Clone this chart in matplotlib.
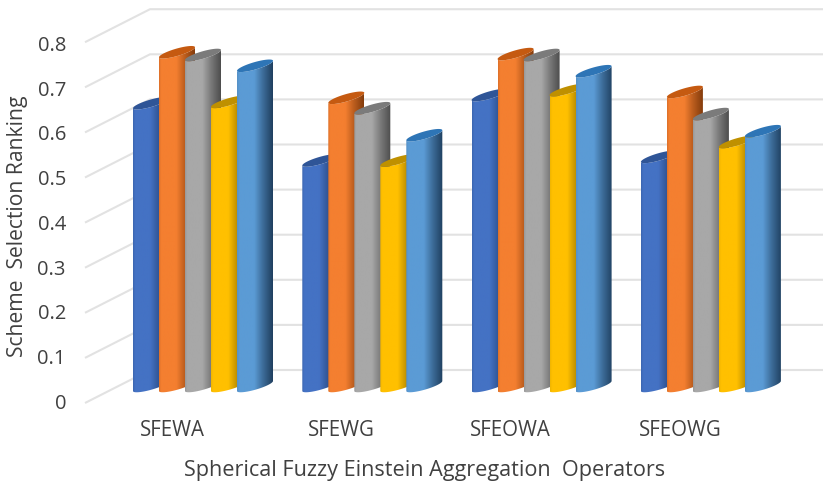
import numpy as np
import matplotlib
matplotlib.use("Agg")
import matplotlib.pyplot as plt
from matplotlib.path import Path
from matplotlib.patches import Polygon
from matplotlib.colors import to_rgb

plt.rcParams['font.family'] = ['Open Sans', 'DejaVu Sans']

categories = ["SFEWA", "SFEWG", "SFEOWA", "SFEOWG"]
series_1 = [0.627, 0.500, 0.645, 0.508]
series_2 = [0.740, 0.639, 0.736, 0.652]
series_3 = [0.734, 0.616, 0.734, 0.603]
series_4 = [0.630, 0.500, 0.656, 0.541]
series_5 = [0.710, 0.556, 0.698, 0.565]
y_ticks = [0, 0.1, 0.2, 0.3, 0.4, 0.5, 0.6, 0.7, 0.8]
y_tick_labels = ["0", "0.1", "0.2", "0.3", "0.4", "0.5", "0.6", "0.7", "0.8"]
x_title = "Spherical Fuzzy Einstein Aggregation  Operators"
y_title = "Scheme  Selection Ranking"

W, H = 823, 486
fig = plt.figure(figsize=(W / 100, H / 100), dpi=100, facecolor="white")
ax = fig.add_axes([0, 0, 1, 1])

# Scale: one category step and one value unit, in pixels
PX_X, PX_Y = 169.3, 451.0
X0, Y0 = 203.0, 386.0
ax.set_xlim(-X0 / PX_X, (W - X0) / PX_X)
ax.set_ylim((Y0 - H) / PX_Y, Y0 / PX_Y)
ax.axis("off")

# Oblique chart box: floor corners relative to the plane of the bars
BACK_DV = 16 / PX_Y
FRONT_DV = -17 / PX_Y
WALL_LEFT = (150 - X0) / PX_X
FRONT_LEFT = (85 - X0) / PX_X
RIGHT_END = (W - X0) / PX_X
GRID = "#e2e2e2"
for t in y_ticks:
    ax.plot([FRONT_LEFT, WALL_LEFT, RIGHT_END],
            [t + FRONT_DV, t + BACK_DV, t + BACK_DV],
            color=GRID, lw=1.5, solid_capstyle="butt", zorder=1)

# Cylinder geometry
STEP = 26 / PX_X
A = 18 / PX_X
B = 3.8 / PX_Y
SLOPE = (5 / PX_Y) / A


def rim(cx, v, t):
    return cx + A * np.cos(t), v + B * np.sin(t) + SLOPE * A * np.cos(t)


def cylinder(cx, value, base, edge, dark, cap, z):
    ts = np.linspace(np.pi, 2 * np.pi, 40)
    bx, by = rim(cx, 0, ts)
    tx, ty = rim(cx, value, ts[::-1])
    verts = np.column_stack([np.r_[bx, tx], np.r_[by, ty]])
    stops = [0.0, 0.06, 0.48, 0.72, 1.0]
    cols = np.array([to_rgb(edge), to_rgb(base), to_rgb(base),
                     0.5 * (np.array(to_rgb(base)) + np.array(to_rgb(dark))),
                     to_rgb(dark)])
    u = np.linspace(0, 1, 128)
    grad = np.stack([np.interp(u, stops, cols[:, i]) for i in range(3)], axis=-1)[None, :, :]
    im = ax.imshow(grad, extent=[cx - A, cx + A, -0.05, value + 0.05],
                   aspect="auto", interpolation="bilinear", zorder=z)
    im.set_clip_path(Path(np.vstack([verts, verts[0]]), closed=True), transform=ax.transData)
    # Top face of the cylinder
    tt = np.linspace(0, 2 * np.pi, 80)
    ex, ey = rim(cx, value, tt)
    ax.add_patch(Polygon(np.column_stack([ex, ey]), closed=True, facecolor=cap,
                         edgecolor="none", zorder=z + 0.1))


series = [series_1, series_2, series_3, series_4, series_5]
palette = [
    ("#4472c4", "#3c66b0", "#1f3864", "#2f5597"),
    ("#f47f30", "#dc7029", "#843c0c", "#c55a11"),
    ("#a8a8a8", "#989898", "#4d4d4d", "#7b7b7b"),
    ("#ffc000", "#f0b400", "#7f6000", "#bf9000"),
    ("#5b9bd5", "#5590c6", "#1f3f5f", "#2e75b6"),
]
z = 2
for g in range(len(categories)):
    for s, values in enumerate(series):
        base, edge, dark, cap = palette[s]
        cylinder(g + (s - 2) * STEP, values[g], base, edge, dark, cap, z)
        z += 1
ax.set_xlim(-X0 / PX_X, (W - X0) / PX_X)
ax.set_ylim((Y0 - H) / PX_Y, Y0 / PX_Y)

TEXT = "#404040"
TICK_X = (66 - X0) / PX_X
for t, lab in zip(y_ticks, y_tick_labels):
    ax.text(TICK_X, 0.993 * t + FRONT_DV - 1 / PX_Y, lab, ha="right", va="center",
            fontsize=14.5, color=TEXT, zorder=100)

LABEL_Y = (Y0 - 430) / PX_Y
for g, name in enumerate(categories):
    ax.text(g - 31 / PX_X, LABEL_Y, name, ha="center", va="center",
            fontsize=14.8, color=TEXT, zorder=100)

ax.text((425 - X0) / PX_X, (Y0 - 470) / PX_Y, x_title, ha="center", va="center",
        fontsize=15.6, color=TEXT, zorder=100)
ax.text((18 - X0) / PX_X, (Y0 - 226) / PX_Y, y_title, ha="center", va="center",
        rotation=90, fontsize=15.2, color=TEXT, zorder=100)

fig.savefig("out.png", dpi=100, facecolor="white")
